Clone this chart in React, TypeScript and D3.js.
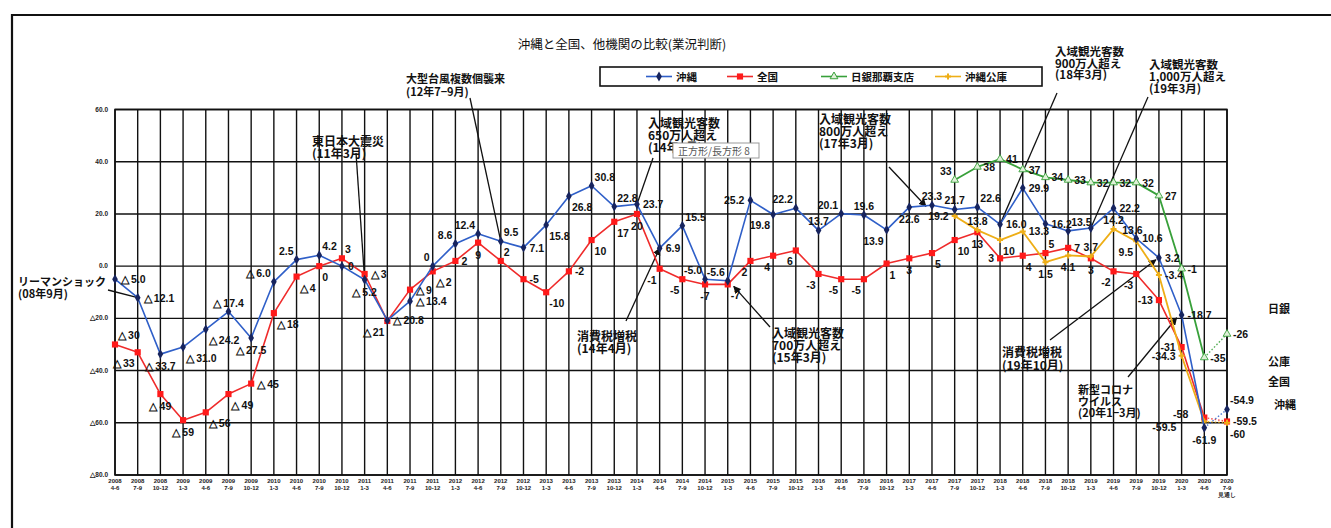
import React from "react";
import * as d3 from "d3";

// ---------- data ----------
const categories = [
  "2008|4-6", "2008|7-9", "2008|10-12",
  "2009|1-3", "2009|4-6", "2009|7-9", "2009|10-12",
  "2010|1-3", "2010|4-6", "2010|7-9", "2010|10-12",
  "2011|1-3", "2011|4-6", "2011|7-9", "2011|10-12",
  "2012|1-3", "2012|4-6", "2012|7-9", "2012|10-12",
  "2013|1-3", "2013|4-6", "2013|7-9", "2013|10-12",
  "2014|1-3", "2014|4-6", "2014|7-9", "2014|10-12",
  "2015|1-3", "2015|4-6", "2015|7-9", "2015|10-12",
  "2016|1-3", "2016|4-6", "2016|7-9", "2016|10-12",
  "2017|1-3", "2017|4-6", "2017|7-9", "2017|10-12",
  "2018|1-3", "2018|4-6", "2018|7-9", "2018|10-12",
  "2019|1-3", "2019|4-6", "2019|7-9", "2019|10-12",
  "2020|1-3", "2020|4-6", "2020|7-9|見通し",
];

const okinawa = [
  -5.0, -12.1, -33.7, -31.0, -24.2, -17.4, -27.5, -6.0, 2.5, 4.2,
  0, -5.2, -20.8, -13.4, 0, 8.6, 12.4, 9.5, 7.1, 15.8,
  26.8, 30.8, 22.8, 23.7, 6.9, 15.5, -5.0, -5.6, 25.2, 19.8,
  22.2, 13.7, 20.1, 19.6, 13.9, 22.6, 23.3, 21.7, 22.6, 16.0,
  29.9, 16.2, 13.5, 14.6, 22.2, 10.6, 3.2, -18.7, -61.9, -54.9,
];

const national = [
  -30, -33, -49, -59, -56, -49, -45, -18, -4, 0,
  3, -3, -21, -9, -2, 2, 9, 2, -5, -10,
  -2, 10, 17, 20, -1, -5, -7, -7, 2, 4,
  6, -3, -5, -5, 1, 3, 5, 10, 13, 3,
  4, 5, 7, 3, -2, -3, -13, -31, -58, -59.5,
];

const bojStart = "2017|7-9";
const boj = [33, 38, 41, 37, 34, 33, 32, 32, 32, 27, -1, -35, -26];

const jfcStart = "2017|7-9";
const jfc = [19.2, 13.8, 10, 13.3, 1.5, 4.1, 3.7, 14.2, 9.5, -3.4, -34.3, -59.5, -60];

const yTicks = [60, 40, 20, 0, -20, -40, -60, -80];
const seriesNames = ["沖縄", "全国", "日銀那覇支店", "沖縄公庫"];
const title = "沖縄と全国、他機関の比較(業況判断)";
const sideNames = ["日銀", "公庫", "全国", "沖縄"];

// ---------- label placement (style) ----------
const okinawaPos = (
  "r r b br br a b al al ar " +
  "r b r r al al al ar r br " +
  "br ar ar r r ar al al l bl " +
  "al a al a bl b a a ar r " +
  "r r ar - r r r r b ar"
).split(" ");
const nationalPos = (
  "ar bl b b br br r br br br " +
  "ar r bl r br r b ar r br " +
  "r br br b bl bl b br bl bl " +
  "bl bl bl bl br b br br b l " +
  "br ar r b bl bl l l ll r"
).split(" ");
const bojPos = "al r r r r r r r r r r r r".split(" ");
const jfcPos = "l a br r b b a a bl r l lb br".split(" ");

const OFF: Record<string, [number, number, string]> = {
  r: [6, 0, "start"],
  l: [-6, 0, "end"],
  ll: [-16, -4, "end"],
  lb: [-28, 6, "end"],
  a: [0, -9, "middle"],
  b: [0, 12, "middle"],
  ar: [3, -9, "start"],
  al: [-3, -9, "end"],
  br: [3, 11, "start"],
  bl: [-3, 11, "end"],
};

const W = 1331;
const H = 528;
const plot = { left: 115, right: 1227, top: 109.5, bottom: 475 };

const x = d3.scalePoint<string>().domain(categories).range([plot.left, plot.right]).padding(0);
const y = d3.scaleLinear().domain([-80, 60]).range([plot.bottom, plot.top]);

type Pt = { key: string; i: number; v: number };
const toPts = (vals: number[], start: string): Pt[] => {
  const s = categories.indexOf(start);
  return vals.map((v, k) => ({ key: categories[s + k], i: s + k, v }));
};

const sOkinawa = toPts(okinawa, categories[0]);
const sNational = toPts(national, categories[0]);
const sBoj = toPts(boj, bojStart);
const sJfc = toPts(jfc, jfcStart);

const fmtDelta = (v: number, i: number, dec: boolean) => {
  const a = Math.abs(v);
  const s = dec ? (v === 0 ? "0" : a.toFixed(1)) : String(a);
  if (v >= 0) return s;
  return i < 16 ? "△\u2009" + s : "-" + s;
};

const line = d3
  .line<Pt>()
  .x((d) => x(d.key) as number)
  .y((d) => y(d.v));

const COL = {
  okinawa: "#2f5fc8",
  okinawaMk: "#17245e",
  national: "#ef2b2b",
  nationalMk: "#ff1a1a",
  boj: "#38a03a",
  jfc: "#eeae16",
};

const labelFont = "'Liberation Sans Narrow', 'Liberation Sans', Arial, sans-serif";
const jpFont = "'Noto Sans CJK JP', 'Noto Sans', sans-serif";

type Ann = {
  lines: string[];
  x: number;
  y: number;
  lh: number;
  fs: number;
  from: [number, number];
  target: Pt;
  arrow: boolean;
  end?: [number, number];
};

const annotations: Ann[] = [
  { lines: ["リーマンショック", "(08年9月)"], x: 18, y: 286, lh: 12, fs: 11, from: [108, 290], target: sOkinawa[1], arrow: false },
  { lines: ["東日本大震災", "(11年3月)"], x: 312, y: 146, lh: 12, fs: 12, from: [356, 153], target: sOkinawa[11], arrow: false },
  { lines: ["大型台風複数個襲来", "(12年7−9月)"], x: 406, y: 83, lh: 13, fs: 11, from: [470, 98], target: sOkinawa[17], arrow: false },
  { lines: ["入域観光客数", "650万人超え", "(14年3月)"], x: 648, y: 128, lh: 12, fs: 12, from: [653, 158], target: sOkinawa[23], arrow: false },
  { lines: ["消費税増税", "(14年4月)"], x: 577, y: 341, lh: 12, fs: 12, from: [626, 321], target: sOkinawa[24], arrow: true },
  { lines: ["入域観光客数", "700万人超え", "(15年3月)"], x: 772, y: 338, lh: 12, fs: 12, from: [770, 327], target: sNational[27], arrow: true, end: [6, 2] },
  { lines: ["入域観光客数", "800万人超え", "(17年3月)"], x: 819, y: 124, lh: 12, fs: 12, from: [889, 167], target: sOkinawa[36], arrow: true, end: [-6, 1] },
  { lines: ["入域観光客数", "900万人超え", "(18年3月)"], x: 1055, y: 56, lh: 11.5, fs: 11.5, from: [1057, 93], target: sOkinawa[39], arrow: false },
  { lines: ["入域観光客数", "1,000万人超え", "(19年3月)"], x: 1149, y: 69, lh: 12, fs: 11.5, from: [1148, 97], target: sOkinawa[43], arrow: false },
  { lines: ["消費税増税", "(19年10月)"], x: 1002, y: 357, lh: 12.5, fs: 12, from: [1050, 340], target: sOkinawa[46], arrow: true, end: [-3, 2] },
  { lines: ["新型コロナ", "ウイルス", "(20年1−3月)"], x: 1078, y: 394, lh: 11.5, fs: 11, from: [1128, 377], target: sOkinawa[47], arrow: true, end: [-5, 3] },
];

function Labels({ pts, pos, fmt, color }: { pts: Pt[]; pos: string[]; fmt: (p: Pt) => string; color: string }) {
  return (
    <g fontFamily={labelFont} fontWeight={700} fontSize={10.5} fill={color}>
      {pts.map((p, k) => {
        const code = pos[k];
        if (!code || code === "-") return null;
        const [dx, dy, anchor] = OFF[code];
        return (
          <text
            key={p.key}
            x={(x(p.key) as number) + dx}
            y={y(p.v) + dy}
            textAnchor={anchor as any}
            dominantBaseline="central"
          >
            {fmt(p)}
          </text>
        );
      })}
    </g>
  );
}

function Series({ pts, color, width, marker }: { pts: Pt[]; color: string; width: number; marker: (p: Pt) => React.ReactNode }) {
  const solid = pts.slice(0, pts.length - 1);
  const dotted = pts.slice(pts.length - 2);
  return (
    <g>
      <path d={line(solid) || ""} fill="none" stroke={color} strokeWidth={width} strokeLinejoin="round" />
      <path d={line(dotted) || ""} fill="none" stroke={color} strokeWidth={1.4} strokeDasharray="1.5 2" opacity={0.85} />
      {pts.map((p) => marker(p))}
    </g>
  );
}

const diamond = d3.symbol(d3.symbolDiamond, 28)() || "";
const square = d3.symbol(d3.symbolSquare, 38)() || "";
const triangle = d3.symbol(d3.symbolTriangle, 26)() || "";
const cross = d3.symbol(d3.symbolCross, 20)() || "";

export default function App() {
  const xs = categories.map((c) => x(c) as number);

  const arrowLine = (a: Ann) => {
    const tx = (x(a.target.key) as number) + (a.end ? a.end[0] : 0);
    const ty = y(a.target.v) + (a.end ? a.end[1] : 0);
    return (
      <line
        x1={a.from[0]}
        y1={a.from[1]}
        x2={tx}
        y2={ty}
        stroke="#111"
        strokeWidth={1.3}
        markerEnd={a.arrow ? "url(#arrowHead)" : undefined}
      />
    );
  };

  return (
    <svg
      width={W}
      height={H}
      viewBox={`0 0 ${W} ${H}`}
      style={{ position: "absolute", left: 0, top: 0, background: "#fff" }}
    >
      <defs>
        <marker id="arrowHead" viewBox="0 0 10 10" refX="9" refY="5" markerWidth="6" markerHeight="6" orient="auto-start-reverse">
          <path d="M0,0 L10,5 L0,10 z" fill="#111" />
        </marker>
      </defs>
      <rect x={0} y={0} width={W} height={H} fill="#fff" />

      {/* outer frame */}
      <path d={`M12,${H} L12,15 L${W},15`} fill="none" stroke="#111" strokeWidth={2.2} />

      {/* title */}
      <text x={622} y={49} textAnchor="middle" fontFamily={jpFont} fontSize={12.5} fill="#111">
        {title}
      </text>

      {/* legend */}
      <g fontFamily={jpFont} fontSize={10.5} fontWeight={700} fill="#111">
        <rect x={600} y={67} width={442} height={19} fill="#fff" stroke="#111" strokeWidth={1.6} />
        {[
          { x0: 646, color: COL.okinawa, mk: <path d={diamond} fill={COL.okinawaMk} /> },
          { x0: 727, color: COL.national, mk: <path d={square} fill={COL.nationalMk} /> },
          { x0: 821, color: COL.boj, mk: <path d={triangle} fill="#dff0d8" stroke={COL.boj} strokeWidth={1} /> },
          { x0: 935, color: COL.jfc, mk: <path d={cross} fill={COL.jfc} /> },
        ].map((it, k) => (
          <g key={seriesNames[k]}>
            <line x1={it.x0} x2={it.x0 + 26} y1={76.5} y2={76.5} stroke={it.color} strokeWidth={1.6} />
            <g transform={`translate(${it.x0 + 13},76.5)`}>{it.mk}</g>
            <text x={it.x0 + 30} y={80.5}>{seriesNames[k]}</text>
          </g>
        ))}
      </g>

      {/* grid */}
      <g stroke="#111" strokeWidth={1.4}>
        {yTicks.map((t) => (
          <line key={t} x1={plot.left} x2={plot.right} y1={y(t)} y2={y(t)} />
        ))}
        {xs.map((px, k) => (
          <line key={k} x1={px} x2={px} y1={plot.top} y2={plot.bottom} />
        ))}
      </g>
      <rect
        x={plot.left}
        y={plot.top}
        width={plot.right - plot.left}
        height={plot.bottom - plot.top}
        fill="none"
        stroke="#111"
        strokeWidth={1.6}
      />

      {/* y axis labels */}
      <g fontFamily={labelFont} fontSize={6.5} fontWeight={700} fill="#222" textAnchor="end">
        {yTicks.map((t) => (
          <text key={t} x={108} y={y(t) + 2}>
            {t < 0 ? "△" + Math.abs(t).toFixed(1) : t.toFixed(1)}
          </text>
        ))}
      </g>

      {/* x axis labels */}
      <g fontFamily={labelFont} fontSize={6} fontWeight={700} fill="#222" textAnchor="middle">
        {categories.map((c) => {
          const parts = c.split("|");
          return (
            <text key={c} x={x(c) as number} y={plot.bottom + 8}>
              {parts.map((p, k) => (
                <tspan key={k} x={x(c) as number} dy={k === 0 ? 0 : 7}>
                  {p}
                </tspan>
              ))}
            </text>
          );
        })}
      </g>

      {/* annotation lines */}
      {annotations.map((a, k) => (
        <g key={"al" + k}>{arrowLine(a)}</g>
      ))}

      {/* series */}
      <Series
        pts={sBoj}
        color={COL.boj}
        width={1.8}
        marker={(p) => (
          <path key={p.key} transform={`translate(${x(p.key)},${y(p.v)})`} d={triangle} fill="#dff0d8" stroke={COL.boj} strokeWidth={0.9} />
        )}
      />
      <Series
        pts={sNational}
        color={COL.national}
        width={1.6}
        marker={(p) => <path key={p.key} transform={`translate(${x(p.key)},${y(p.v)})`} d={square} fill={COL.nationalMk} />}
      />
      <Series
        pts={sJfc}
        color={COL.jfc}
        width={1.8}
        marker={(p) => <path key={p.key} transform={`translate(${x(p.key)},${y(p.v)})`} d={cross} fill={COL.jfc} />}
      />
      <Series
        pts={sOkinawa}
        color={COL.okinawa}
        width={1.6}
        marker={(p) => <path key={p.key} transform={`translate(${x(p.key)},${y(p.v)})`} d={diamond} fill={COL.okinawaMk} />}
      />

      {/* data labels */}
      <Labels pts={sOkinawa} pos={okinawaPos} fmt={(p) => fmtDelta(p.v, p.i, true)} color="#111" />
      <Labels pts={sNational} pos={nationalPos} fmt={(p) => fmtDelta(p.v, p.i, false)} color="#111" />
      <Labels pts={sBoj} pos={bojPos} fmt={(p) => String(p.v)} color="#111" />
      <Labels pts={sJfc} pos={jfcPos} fmt={(p) => String(p.v)} color="#111" />
      {/* stray label left on the original sheet */}
      <text
        x={(x(sOkinawa[45].key) as number) - 14}
        y={y(sOkinawa[45].v) - 8}
        fontFamily={labelFont}
        fontWeight={700}
        fontSize={10.5}
        fill="#111"
        dominantBaseline="central"
      >
        13.6
      </text>

      {/* annotation texts */}
      <g fontFamily={jpFont} fontWeight={700} fill="#111">
        {annotations.map((a, k) => (
          <text key={"at" + k} x={a.x} y={a.y} fontSize={a.fs}>
            {a.lines.map((l, j) => (
              <tspan key={j} x={a.x} dy={j === 0 ? 0 : a.lh}>
                {l}
              </tspan>
            ))}
          </text>
        ))}
      </g>

      {/* Excel shape tooltip captured in the original */}
      <g>
        <rect x={673} y={143} width={86} height={15} fill="#fff" stroke="#999" strokeWidth={1} />
        <text x={678} y={154.5} fontFamily={jpFont} fontSize={10} fill="#555">
          正方形/長方形 8
        </text>
      </g>

      {/* side series names */}
      <g fontFamily={jpFont} fontWeight={700} fontSize={11} fill="#111">
        <text x={1268} y={313}>{sideNames[0]}</text>
        <text x={1268} y={366}>{sideNames[1]}</text>
        <text x={1268} y={386}>{sideNames[2]}</text>
        <text x={1274} y={409}>{sideNames[3]}</text>
      </g>
    </svg>
  );
}
